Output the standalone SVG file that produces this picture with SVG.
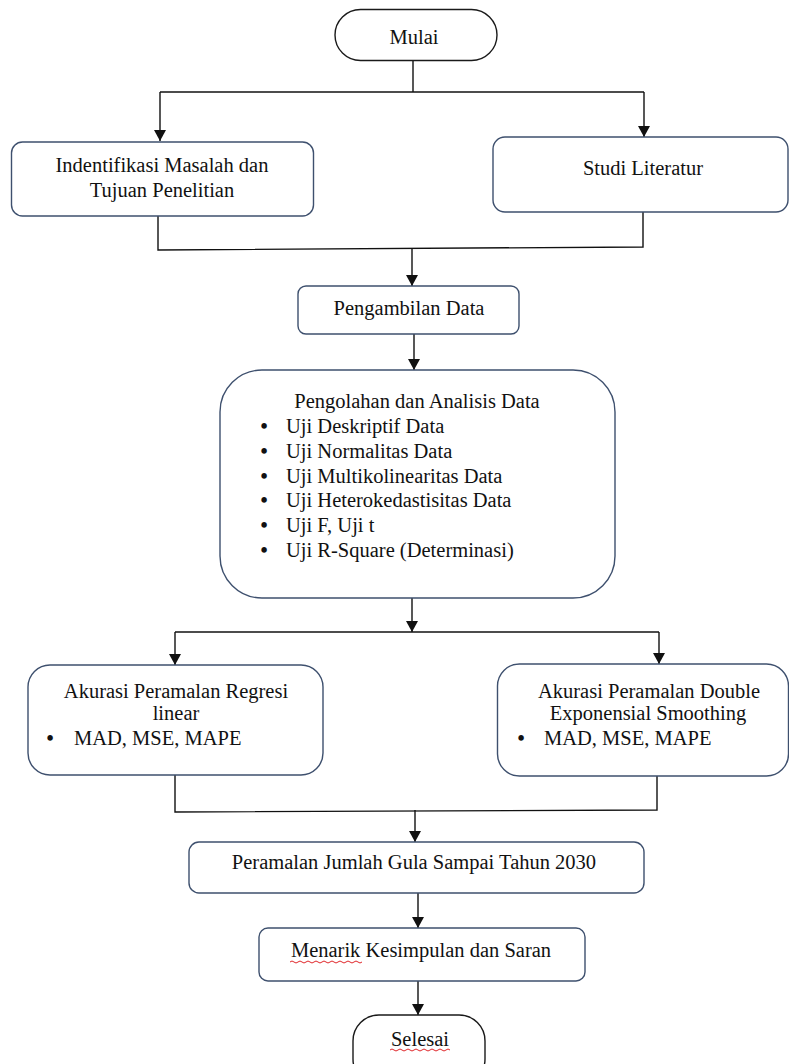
<svg xmlns="http://www.w3.org/2000/svg" width="789" height="1064" viewBox="0 0 789 1064">
<style>
.box{fill:#fff;stroke:#3e506e;stroke-width:1.4}
.term{fill:#fff;stroke:#1a1a1a;stroke-width:1.4}
.t{font-family:"Liberation Serif","Times New Roman",serif;font-size:20.5px;fill:#111}
.b{font-family:"Liberation Serif","Times New Roman",serif;font-size:20.5px;font-weight:bold;fill:#111;text-anchor:middle}
.c{text-anchor:middle}
.ln{fill:none;stroke:#111;stroke-width:1.4}
.sq{fill:none;stroke:#e0262a;stroke-width:1}
</style>
<defs>
<marker id="ah" markerUnits="userSpaceOnUse" markerWidth="12" markerHeight="12" viewBox="0 0 12 12" refX="11" refY="6" orient="auto">
<path d="M0,0 L11,6 L0,12 Z" fill="#111"/>
</marker>
</defs>
<rect width="789" height="1064" fill="#fff"/>

<g id="connectors">
<path class="ln" d="M413,61 V92"/>
<path class="ln" d="M160,92 H644"/>
<path class="ln" d="M160,92 V141" marker-end="url(#ah)"/>
<path class="ln" d="M644,92 V137" marker-end="url(#ah)"/>
<path class="ln" d="M158,216 V250 L643,247 V212"/>
<path class="ln" d="M412,249 V286" marker-end="url(#ah)"/>
<path class="ln" d="M414,334 V370" marker-end="url(#ah)"/>
<path class="ln" d="M412,598 V632" marker-end="url(#ah)"/>
<path class="ln" d="M175,632 H659"/>
<path class="ln" d="M175,632 V665" marker-end="url(#ah)"/>
<path class="ln" d="M659,632 V664" marker-end="url(#ah)"/>
<path class="ln" d="M175,775 V812 L657,810 V776"/>
<path class="ln" d="M415,810 V842" marker-end="url(#ah)"/>
<path class="ln" d="M418,893 V928" marker-end="url(#ah)"/>
<path class="ln" d="M418,981 V1015" marker-end="url(#ah)"/>
</g>

<g id="mulai">
<rect class="term" x="335" y="9.5" width="162" height="51" rx="25.5"/>
<text class="t c" x="414" y="44">Mulai</text>
</g>

<g id="identifikasi">
<rect class="box" x="11.5" y="142" width="302" height="74" rx="11"/>
<text class="t c" x="162" y="172">Indentifikasi Masalah dan</text>
<text class="t c" x="162" y="197">Tujuan Penelitian</text>
</g>

<g id="studi">
<rect class="box" x="493" y="137" width="295" height="75" rx="12"/>
<text class="t c" x="643" y="175">Studi Literatur</text>
</g>

<g id="pengambilan">
<rect class="box" x="298" y="286" width="221" height="48" rx="8"/>
<text class="t c" x="409" y="315">Pengambilan Data</text>
</g>

<g id="pengolahan">
<rect class="box" x="220" y="370" width="395" height="228" rx="42"/>
<text class="t c" x="417" y="408">Pengolahan dan Analisis Data</text>
<text class="b" x="264" y="433">•</text><text class="t" x="286" y="433">Uji Deskriptif Data</text>
<text class="b" x="264" y="458">•</text><text class="t" x="286" y="458">Uji Normalitas Data</text>
<text class="b" x="264" y="483">•</text><text class="t" x="286" y="483">Uji Multikolinearitas Data</text>
<text class="b" x="264" y="507">•</text><text class="t" x="286" y="507">Uji Heterokedastisitas Data</text>
<text class="b" x="264" y="532">•</text><text class="t" x="286" y="532">Uji F, Uji t</text>
<text class="b" x="264" y="557">•</text><text class="t" x="286" y="557">Uji R-Square (Determinasi)</text>
</g>

<g id="akurasi-regresi">
<rect class="box" x="28" y="665" width="295" height="110" rx="22"/>
<text class="t c" x="176" y="698">Akurasi Peramalan Regresi</text>
<text class="t c" x="176" y="720">linear</text>
<text class="b" x="50" y="745">•</text><text class="t" x="74" y="745">MAD, MSE, MAPE</text>
</g>

<g id="akurasi-des">
<rect class="box" x="497.5" y="664" width="291" height="112" rx="22"/>
<text class="t c" x="649" y="698">Akurasi Peramalan Double</text>
<text class="t c" x="648" y="720">Exponensial Smoothing</text>
<text class="b" x="521" y="745">•</text><text class="t" x="544" y="745">MAD, MSE, MAPE</text>
</g>

<g id="peramalan">
<rect class="box" x="189" y="842" width="455" height="51" rx="10"/>
<text class="t c" x="414" y="869">Peramalan Jumlah Gula Sampai Tahun 2030</text>
</g>

<g id="menarik">
<rect class="box" x="259" y="928" width="326" height="53" rx="9"/>
<text class="t c" x="421" y="957">Menarik Kesimpulan dan Saran</text>
<path class="sq" d="M290,962 q2,-2 4,0 t4,0 t4,0 t4,0 t4,0 t4,0 t4,0 t4,0 t4,0 t4,0 t4,0 t4,0 t4,0 t4,0 t4,0 t4,0 t4,0 t4,0"/>
</g>

<g id="selesai">
<rect class="term" x="353" y="1015" width="132" height="70" rx="26"/>
<text class="t c" x="420" y="1046">Selesai</text>
<path class="sq" d="M390,1050 q2,-2 4,0 t4,0 t4,0 t4,0 t4,0 t4,0 t4,0 t4,0 t4,0 t4,0 t4,0 t4,0 t4,0 t4,0 t4,0"/>
</g>
</svg>
